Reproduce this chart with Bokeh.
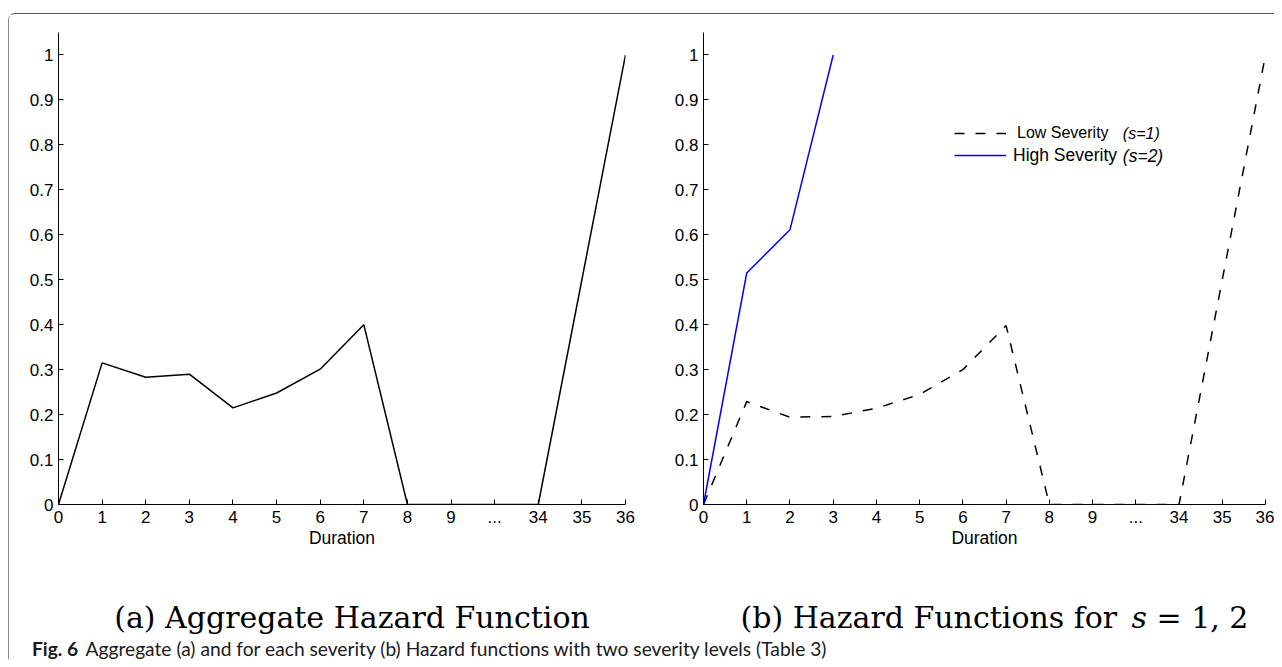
from bokeh.plotting import figure
from bokeh.layouts import row, column
from bokeh.models import FixedTicker, NumeralTickFormatter, Legend, LegendItem, Label, Range1d
from bokeh.embed import file_html
from bokeh.resources import INLINE

# values (hazard rate per duration)
duration_labels = ["0", "1", "2", "3", "4", "5", "6", "7", "8", "9", "...", "34", "35", "36"]
aggregate_hazard = [0, 0.315, 0.283, 0.290, 0.215, 0.248, 0.301, 0.400, 0, 0, 0, 0, 0.5, 1.0]
low_severity = [0, 0.229, 0.194, 0.196, 0.214, 0.245, 0.300, 0.398, 0, 0, 0, 0, 0.5, 1.0]
high_severity = [0, 0.515, 0.611, 1.0]
y_ticks = [0, 0.1, 0.2, 0.3, 0.4, 0.5, 0.6, 0.7, 0.8, 0.9, 1.0]

title_a = "(a) Aggregate Hazard Function"
title_b = ["(b) Hazard Functions for", "s", "= 1, 2"]
caption_bold = "Fig. 6"
caption_rest = "Aggregate (a) and for each severity (b) Hazard functions with two severity levels (Table 3)"

positions = list(range(len(duration_labels)))
SANS = "Liberation Sans"


def hazard_plot(width, left, right):
    p = figure(width=width, height=542, title=None,
               x_range=Range1d(0, len(duration_labels) - 1), y_range=Range1d(0, 1.05),
               min_border_left=left, min_border_right=right,
               min_border_top=18, min_border_bottom=52,
               output_backend="svg", toolbar_location=None)
    p.outline_line_color = None
    p.grid.visible = False
    p.xaxis.ticker = FixedTicker(ticks=positions)
    p.xaxis.major_label_overrides = {i: s for i, s in enumerate(duration_labels)}
    p.yaxis.ticker = FixedTicker(ticks=y_ticks)
    p.yaxis.formatter = NumeralTickFormatter(format="0.[0]")
    for ax in p.axis:
        ax.axis_line_color = "black"
        ax.major_tick_line_color = "black"
        ax.major_tick_in = 5
        ax.major_tick_out = 0
        ax.minor_tick_line_color = None
        ax.major_label_text_font = SANS
        ax.major_label_text_font_size = "17px"
        ax.major_label_text_color = "black"
    p.xaxis.major_label_standoff = 6
    p.yaxis.major_label_standoff = 5
    p.xaxis.axis_label = "Duration"
    p.xaxis.axis_label_text_font = SANS
    p.xaxis.axis_label_text_font_size = "17.5px"
    p.xaxis.axis_label_text_font_style = "normal"
    p.xaxis.axis_label_text_color = "black"
    p.xaxis.axis_label_standoff = 2
    return p


# (a) aggregate
pa = hazard_plot(646, 49, 30)
pa.line(positions, aggregate_hazard, line_color="black", line_width=1.5)

# (b) by severity
pb = hazard_plot(619, 48, 9)
r_low = pb.line(positions, low_severity, line_color="black", line_width=1.5, line_dash="10 11")
r_high = pb.line(positions[:len(high_severity)], high_severity, line_color="#0000ff", line_width=1.5)

leg_style = dict(glyph_width=52, glyph_height=20, label_height=20, padding=0, margin=0,
                 spacing=0, border_line_color=None, background_fill_alpha=0,
                 label_text_font=SANS, label_text_color="black")
pb.add_layout(Legend(items=[LegendItem(label="Low Severity", renderers=[r_low])],
                     location=(251, 361), label_standoff=11, label_text_font_size="16px", **leg_style))
pb.add_layout(Legend(items=[LegendItem(label="High Severity", renderers=[r_high])],
                     location=(251, 338), label_standoff=7, label_text_font_size="17.5px", **leg_style))
pb.add_layout(Label(x=9.70, y=0.825, text="(s=1)", text_font=SANS, text_font_style="italic",
                    text_font_size="16px", text_baseline="middle", text_color="black"))
pb.add_layout(Label(x=9.70, y=0.775, text="(s=2)", text_font=SANS, text_font_style="italic",
                    text_font_size="17.5px", text_baseline="middle", text_color="black"))

# sub-titles and figure caption
cap = figure(width=1265, height=103, title=None, x_range=Range1d(0, 1265), y_range=Range1d(0, 103),
             x_axis_type=None, y_axis_type=None, min_border=0,
             output_backend="svg", toolbar_location=None)
cap.outline_line_color = None
cap.grid.visible = False
serif = dict(text_font="DejaVu Serif", text_font_size="30px", text_color="black", text_baseline="alphabetic")
cap.add_layout(Label(x=342.5, y=42.5, text=title_a, text_align="center", **serif))
cap.add_layout(Label(x=731, y=42.5, text=title_b[0], **serif))
cap.add_layout(Label(x=1122, y=42.5, text=title_b[1], text_font_style="italic", **serif))
cap.add_layout(Label(x=1147, y=42.5, text=title_b[2], **serif))
humanist = dict(text_font="Lato", text_font_size="19.2px", text_color="#1a1a1a", text_baseline="middle")
cap.add_layout(Label(x=22.5, y=11.5, text=caption_bold, text_font_style="bold", **humanist))
cap.add_layout(Label(x=76, y=11.5, text=caption_rest, **humanist))

layout = column(row(pa, pb), cap,
                styles={"margin-top": "12.5px",
                        "margin-left": "8px",
                        "border-top": "1.5px solid #555",
                        "border-left": "1.5px solid #888",
                        "border-top-left-radius": "7px"})

open("out.html", "w").write(file_html(layout, INLINE))
